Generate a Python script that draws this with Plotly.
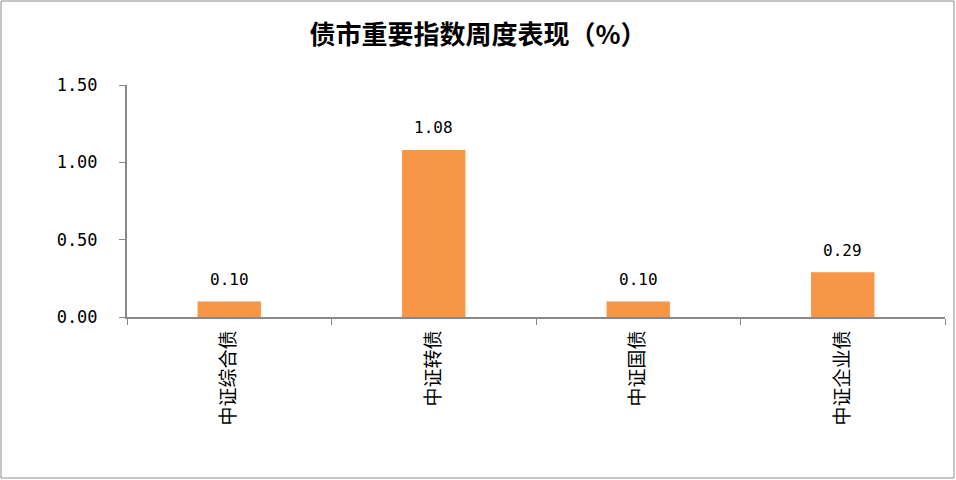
import plotly.graph_objects as go

categories = ["中证综合债", "中证转债", "中证国债", "中证企业债"]
values = [0.10, 1.08, 0.10, 0.29]
labels = ["0.10", "1.08", "0.10", "0.29"]
y_ticks = [0, 0.5, 1.0, 1.5]
y_tick_text = ["0.00", "0.50", "1.00", "1.50"]

cjk_font = "Noto Sans CJK SC"
num_font = "DejaVu Sans Mono, Noto Sans Mono CJK SC, monospace"

fig = go.Figure()
fig.add_trace(go.Bar(
    x=categories,
    y=values,
    marker=dict(color="#F79646", line=dict(width=0)),
    width=0.31,
    hoverinfo="x+y",
))

for cat, val, lab in zip(categories, values, labels):
    fig.add_annotation(
        x=cat, y=val, text=lab, showarrow=False,
        yshift=22, yanchor="middle",
        font=dict(size=16, color="#000000", family=num_font),
    )

W, H = 956, 480
L, R, T, B = 127, 11, 85, 163
pw, ph = W - L - R, H - T - B

fig.update_layout(
    width=W,
    height=H,
    margin=dict(l=L, r=R, t=T, b=B, pad=0),
    paper_bgcolor="white",
    plot_bgcolor="white",
    showlegend=False,
    title=dict(
        text="<b>债市重要指数周度表现（%）</b>",
        x=0.5,
        xanchor="center",
        y=1 - 35 / H,
        yanchor="middle",
        font=dict(size=26, color="#000000", family=cjk_font),
    ),
    font=dict(family=cjk_font, color="#000000"),
    shapes=[dict(
        type="rect", xref="paper", yref="paper",
        x0=-(L - 1) / pw, x1=1 + (R - 2) / pw,
        y0=-(B - 2) / ph, y1=1 + (T - 1) / ph,
        line=dict(color="#8c8c8c", width=1),
    )],
)

fig.update_xaxes(
    showline=True,
    linecolor="#888888",
    linewidth=2,
    ticks="outside",
    tickson="boundaries",
    ticklen=6,
    tickcolor="#888888",
    tickangle=-90,
    ticklabelstandoff=4,
    tickfont=dict(size=19, family=cjk_font, color="#000000"),
    showgrid=False,
)

fig.update_yaxes(
    range=[0, 1.5],
    tickvals=y_ticks,
    ticktext=y_tick_text,
    showline=True,
    linecolor="#888888",
    linewidth=2,
    ticks="outside",
    ticklen=6,
    tickcolor="#888888",
    ticklabelstandoff=18,
    tickfont=dict(size=17, family=num_font, color="#000000"),
    showgrid=False,
    zeroline=False,
)

fig.write_html(
    "out.html",
    config={"displayModeBar": False},
    post_script="document.body.style.margin='0';document.body.style.overflow='hidden';",
)
